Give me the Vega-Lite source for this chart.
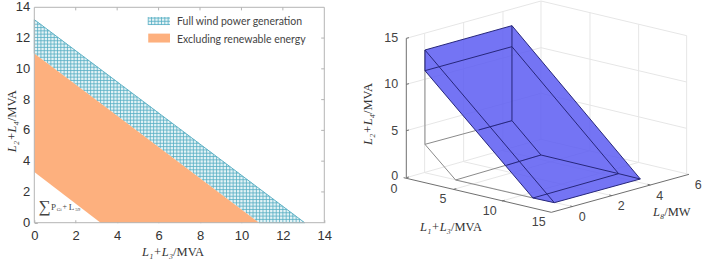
{"$schema":"https://vega.github.io/schema/vega-lite/v6.json","padding":{"left":5.3,"top":0,"right":0,"bottom":0},"spacing":18,"background":"white","config":{"view":{"stroke":null},"text":{"font":"Liberation Sans"}},
"datasets":{
"hatch":[
{"x":0,"x2":0,"y":11,"y2":13.2},{"x":0.16,"x2":0.16,"y":10.84,"y2":13.04},{"x":0.32,"x2":0.32,"y":10.68,"y2":12.88},{"x":0.48,"x2":0.48,"y":10.51,"y2":12.71},{"x":0.64,"x2":0.64,"y":10.35,"y2":12.55},{"x":0.8,"x2":0.8,"y":10.19,"y2":12.39},{"x":0.96,"x2":0.96,"y":10.03,"y2":12.23},{"x":1.12,"x2":1.12,"y":9.86,"y2":12.07},{"x":1.28,"x2":1.28,"y":9.7,"y2":11.91},{"x":1.44,"x2":1.44,"y":9.54,"y2":11.74},{"x":1.6,"x2":1.6,"y":9.38,"y2":11.58},{"x":1.76,"x2":1.76,"y":9.22,"y2":11.42},{"x":1.92,"x2":1.92,"y":9.05,"y2":11.26},{"x":2.08,"x2":2.08,"y":8.89,"y2":11.1},{"x":2.24,"x2":2.24,"y":8.73,"y2":10.93},{"x":2.4,"x2":2.4,"y":8.57,"y2":10.77},{"x":2.56,"x2":2.56,"y":8.4,"y2":10.61},{"x":2.72,"x2":2.72,"y":8.24,"y2":10.45},{"x":2.88,"x2":2.88,"y":8.08,"y2":10.29},{"x":3.04,"x2":3.04,"y":7.92,"y2":10.13},{"x":3.2,"x2":3.2,"y":7.76,"y2":9.96},{"x":3.36,"x2":3.36,"y":7.59,"y2":9.8},{"x":3.52,"x2":3.52,"y":7.43,"y2":9.64},{"x":3.68,"x2":3.68,"y":7.27,"y2":9.48},{"x":3.84,"x2":3.84,"y":7.11,"y2":9.32},{"x":4,"x2":4,"y":6.94,"y2":9.15},{"x":4.16,"x2":4.16,"y":6.78,"y2":8.99},{"x":4.32,"x2":4.32,"y":6.62,"y2":8.83},{"x":4.48,"x2":4.48,"y":6.46,"y2":8.67},{"x":4.64,"x2":4.64,"y":6.3,"y2":8.51},{"x":4.8,"x2":4.8,"y":6.13,"y2":8.34},{"x":4.96,"x2":4.96,"y":5.97,"y2":8.18},{"x":5.12,"x2":5.12,"y":5.81,"y2":8.02},{"x":5.28,"x2":5.28,"y":5.65,"y2":7.86},{"x":5.44,"x2":5.44,"y":5.48,"y2":7.7},{"x":5.6,"x2":5.6,"y":5.32,"y2":7.54},{"x":5.76,"x2":5.76,"y":5.16,"y2":7.37},{"x":5.92,"x2":5.92,"y":5,"y2":7.21},{"x":6.08,"x2":6.08,"y":4.84,"y2":7.05},{"x":6.24,"x2":6.24,"y":4.67,"y2":6.89},{"x":6.4,"x2":6.4,"y":4.51,"y2":6.73},{"x":6.56,"x2":6.56,"y":4.35,"y2":6.56},{"x":6.72,"x2":6.72,"y":4.19,"y2":6.4},{"x":6.88,"x2":6.88,"y":4.03,"y2":6.24},{"x":7.04,"x2":7.04,"y":3.86,"y2":6.08},{"x":7.2,"x2":7.2,"y":3.7,"y2":5.92},{"x":7.36,"x2":7.36,"y":3.54,"y2":5.76},{"x":7.52,"x2":7.52,"y":3.38,"y2":5.59},{"x":7.68,"x2":7.68,"y":3.21,"y2":5.43},{"x":7.84,"x2":7.84,"y":3.05,"y2":5.27},{"x":8,"x2":8,"y":2.89,"y2":5.11},{"x":8.16,"x2":8.16,"y":2.73,"y2":4.95},{"x":8.32,"x2":8.32,"y":2.57,"y2":4.78},{"x":8.48,"x2":8.48,"y":2.4,"y2":4.62},{"x":8.64,"x2":8.64,"y":2.24,"y2":4.46},{"x":8.8,"x2":8.8,"y":2.08,"y2":4.3},{"x":8.96,"x2":8.96,"y":1.92,"y2":4.14},{"x":9.12,"x2":9.12,"y":1.75,"y2":3.98},{"x":9.28,"x2":9.28,"y":1.59,"y2":3.81},{"x":9.44,"x2":9.44,"y":1.43,"y2":3.65},{"x":9.6,"x2":9.6,"y":1.27,"y2":3.49},{"x":9.76,"x2":9.76,"y":1.11,"y2":3.33},{"x":9.92,"x2":9.92,"y":0.94,"y2":3.17},{"x":10.08,"x2":10.08,"y":0.78,"y2":3},{"x":10.24,"x2":10.24,"y":0.62,"y2":2.84},{"x":10.4,"x2":10.4,"y":0.46,"y2":2.68},{"x":10.56,"x2":10.56,"y":0.29,"y2":2.52},{"x":10.72,"x2":10.72,"y":0.13,"y2":2.36},{"x":10.88,"x2":10.88,"y":0,"y2":2.2},{"x":11.04,"x2":11.04,"y":0,"y2":2.03},{"x":11.2,"x2":11.2,"y":0,"y2":1.87},{"x":11.36,"x2":11.36,"y":0,"y2":1.71},{"x":11.52,"x2":11.52,"y":0,"y2":1.55},{"x":11.68,"x2":11.68,"y":0,"y2":1.39},{"x":11.84,"x2":11.84,"y":0,"y2":1.22},{"x":12,"x2":12,"y":0,"y2":1.06},{"x":12.16,"x2":12.16,"y":0,"y2":0.9},{"x":12.32,"x2":12.32,"y":0,"y2":0.74},{"x":12.48,"x2":12.48,"y":0,"y2":0.58},{"x":12.64,"x2":12.64,"y":0,"y2":0.41},{"x":12.8,"x2":12.8,"y":0,"y2":0.25},{"x":12.96,"x2":12.96,"y":0,"y2":0.09},
{"x":10.85,"x2":13.05,"y":0,"y2":0},{"x":10.64,"x2":12.84,"y":0.215,"y2":0.215},{"x":10.43,"x2":12.62,"y":0.43,"y2":0.43},{"x":10.21,"x2":12.41,"y":0.645,"y2":0.645},{"x":10,"x2":12.2,"y":0.86,"y2":0.86},{"x":9.79,"x2":11.99,"y":1.075,"y2":1.075},{"x":9.58,"x2":11.77,"y":1.29,"y2":1.29},{"x":9.37,"x2":11.56,"y":1.505,"y2":1.505},{"x":9.15,"x2":11.35,"y":1.72,"y2":1.72},{"x":8.94,"x2":11.14,"y":1.935,"y2":1.935},{"x":8.73,"x2":10.92,"y":2.15,"y2":2.15},{"x":8.52,"x2":10.71,"y":2.365,"y2":2.365},{"x":8.3,"x2":10.5,"y":2.58,"y2":2.58},{"x":8.09,"x2":10.29,"y":2.795,"y2":2.795},{"x":7.88,"x2":10.07,"y":3.01,"y2":3.01},{"x":7.67,"x2":9.86,"y":3.225,"y2":3.225},{"x":7.46,"x2":9.65,"y":3.44,"y2":3.44},{"x":7.24,"x2":9.44,"y":3.655,"y2":3.655},{"x":7.03,"x2":9.22,"y":3.87,"y2":3.87},{"x":6.82,"x2":9.01,"y":4.085,"y2":4.085},{"x":6.61,"x2":8.8,"y":4.3,"y2":4.3},{"x":6.4,"x2":8.59,"y":4.515,"y2":4.515},{"x":6.18,"x2":8.37,"y":4.73,"y2":4.73},{"x":5.97,"x2":8.16,"y":4.945,"y2":4.945},{"x":5.76,"x2":7.95,"y":5.16,"y2":5.16},{"x":5.55,"x2":7.74,"y":5.375,"y2":5.375},{"x":5.34,"x2":7.52,"y":5.59,"y2":5.59},{"x":5.12,"x2":7.31,"y":5.805,"y2":5.805},{"x":4.91,"x2":7.1,"y":6.02,"y2":6.02},{"x":4.7,"x2":6.89,"y":6.235,"y2":6.235},{"x":4.49,"x2":6.67,"y":6.45,"y2":6.45},{"x":4.28,"x2":6.46,"y":6.665,"y2":6.665},{"x":4.06,"x2":6.25,"y":6.88,"y2":6.88},{"x":3.85,"x2":6.04,"y":7.095,"y2":7.095},{"x":3.64,"x2":5.82,"y":7.31,"y2":7.31},{"x":3.43,"x2":5.61,"y":7.525,"y2":7.525},{"x":3.21,"x2":5.4,"y":7.74,"y2":7.74},{"x":3,"x2":5.19,"y":7.955,"y2":7.955},{"x":2.79,"x2":4.97,"y":8.17,"y2":8.17},{"x":2.58,"x2":4.76,"y":8.385,"y2":8.385},{"x":2.37,"x2":4.55,"y":8.6,"y2":8.6},{"x":2.15,"x2":4.34,"y":8.815,"y2":8.815},{"x":1.94,"x2":4.12,"y":9.03,"y2":9.03},{"x":1.73,"x2":3.91,"y":9.245,"y2":9.245},{"x":1.52,"x2":3.7,"y":9.46,"y2":9.46},{"x":1.31,"x2":3.49,"y":9.675,"y2":9.675},{"x":1.09,"x2":3.27,"y":9.89,"y2":9.89},{"x":0.88,"x2":3.06,"y":10.105,"y2":10.105},{"x":0.67,"x2":2.85,"y":10.32,"y2":10.32},{"x":0.46,"x2":2.64,"y":10.535,"y2":10.535},{"x":0.25,"x2":2.42,"y":10.75,"y2":10.75},{"x":0.03,"x2":2.21,"y":10.965,"y2":10.965},{"x":0,"x2":2,"y":11.18,"y2":11.18},{"x":0,"x2":1.78,"y":11.395,"y2":11.395},{"x":0,"x2":1.57,"y":11.61,"y2":11.61},{"x":0,"x2":1.36,"y":11.825,"y2":11.825},{"x":0,"x2":1.15,"y":12.04,"y2":12.04},{"x":0,"x2":0.93,"y":12.255,"y2":12.255},{"x":0,"x2":0.72,"y":12.47,"y2":12.47},{"x":0,"x2":0.51,"y":12.685,"y2":12.685},{"x":0,"x2":0.3,"y":12.9,"y2":12.9},{"x":0,"x2":0.08,"y":13.115,"y2":13.115},
{"x":5.5,"x2":5.5,"y":12.85,"y2":13.37},{"x":5.66,"x2":5.66,"y":12.85,"y2":13.37},{"x":5.82,"x2":5.82,"y":12.85,"y2":13.37},{"x":5.98,"x2":5.98,"y":12.85,"y2":13.37},{"x":6.14,"x2":6.14,"y":12.85,"y2":13.37},{"x":6.3,"x2":6.3,"y":12.85,"y2":13.37},{"x":6.46,"x2":6.46,"y":12.85,"y2":13.37},{"x":5.5,"x2":6.55,"y":12.88,"y2":12.88},{"x":5.5,"x2":6.55,"y":13.09,"y2":13.09},{"x":5.5,"x2":6.55,"y":13.3,"y2":13.3}
],
"frameTicks":[
{"x":0,"x2":14,"y":0,"y2":0},{"x":0,"x2":14,"y":14,"y2":14},{"x":0,"x2":0,"y":0,"y2":14},{"x":14,"x2":14,"y":0,"y2":14},
{"x":13.85,"x2":14,"y":2,"y2":2},{"x":13.85,"x2":14,"y":4,"y2":4},{"x":13.85,"x2":14,"y":6,"y2":6},{"x":13.85,"x2":14,"y":8,"y2":8},{"x":13.85,"x2":14,"y":10,"y2":10},{"x":13.85,"x2":14,"y":12,"y2":12},
{"x":2,"x2":2,"y":13.8,"y2":14},{"x":4,"x2":4,"y":13.8,"y2":14},{"x":6,"x2":6,"y":13.8,"y2":14},{"x":8,"x2":8,"y":13.8,"y2":14},{"x":10,"x2":10,"y":13.8,"y2":14},{"x":12,"x2":12,"y":13.8,"y2":14}
],
"yLabels":[{"x":-0.2,"y":0,"t":"0"},{"x":-0.2,"y":2,"t":"2"},{"x":-0.2,"y":4,"t":"4"},{"x":-0.2,"y":6,"t":"6"},{"x":-0.2,"y":8,"t":"8"},{"x":-0.2,"y":10,"t":"10"},{"x":-0.2,"y":12,"t":"12"},{"x":-0.2,"y":14,"t":"14"}],
"grid3d":[
{"u":168,"v":115,"u2":572,"v2":3},{"u":572,"v":3,"u2":1009,"v2":107},{"u":168,"v":253,"u2":572,"v2":143},{"u":572,"v":143,"u2":1009,"v2":246},{"u":168,"v":392,"u2":572,"v2":280},{"u":572,"v":280,"u2":1009,"v2":385},{"u":168,"v":533,"u2":572,"v2":418},{"u":572,"v":418,"u2":1016,"v2":523},{"u":572,"v":3,"u2":572,"v2":418},{"u":719,"v":38,"u2":719,"v2":452},{"u":865,"v":73,"u2":865,"v2":487},{"u":1009,"v":107,"u2":1009,"v2":521},{"u":223,"v":100,"u2":223,"v2":518},{"u":340,"v":68,"u2":340,"v2":485},{"u":458,"v":35,"u2":458,"v2":452},{"u":310,"v":568,"u2":719,"v2":452},{"u":455,"v":603,"u2":865,"v2":487},{"u":668,"v":620,"u2":223,"v2":518},{"u":785,"v":587,"u2":340,"v2":485},{"u":900,"v":555,"u2":458,"v2":452}
],
"edges3dGray":[
{"u":224,"v":150,"u2":224,"v2":433},{"u":224,"v":433,"u2":316,"v2":540},{"u":224,"v":433,"u2":485,"v2":362},{"u":316,"v":540,"u2":572,"v2":465},{"u":316,"v":540,"u2":548,"v2":594}
],
"edges3dNavy":[
{"u":224,"v":150,"u2":485,"v2":77},{"u":485,"v":77,"u2":870,"v2":537},{"u":224,"v":150,"u2":612,"v2":608},{"u":612,"v":608,"u2":870,"v2":537},{"u":224,"v":212,"u2":485,"v2":140},{"u":485,"v":140,"u2":805,"v2":521},{"u":224,"v":212,"u2":548,"v2":594},{"u":548,"v":594,"u2":805,"v2":521},{"u":548,"v":594,"u2":612,"v2":608},{"u":805,"v":521,"u2":870,"v2":537},{"u":485,"v":77,"u2":485,"v2":362},{"u":485,"v":362,"u2":572,"v2":465},{"u":572,"v":465,"u2":805,"v2":521},{"u":385,"v":390,"u2":485,"v2":362},{"u":468,"v":496,"u2":572,"v2":465},{"u":224,"v":150,"u2":224,"v2":212}
],
"axes3d":[
{"u":168,"v":115,"u2":168,"v2":533},{"u":160,"v":533,"u2":603,"v2":637},{"u":603,"v":637,"u2":1016,"v2":523},{"u":168,"v":115,"u2":176,"v2":113},{"u":168,"v":253,"u2":176,"v2":251},{"u":168,"v":392,"u2":176,"v2":390},{"u":168,"v":533,"u2":176,"v2":531},{"u":310,"v":568,"u2":318,"v2":566},{"u":455,"v":603,"u2":463,"v2":601},{"u":668,"v":620,"u2":660,"v2":618},{"u":785,"v":587,"u2":777,"v2":585},{"u":900,"v":555,"u2":892,"v2":553}
],
"labels3d":[
{"u":123,"v":115,"t":"15"},{"u":123,"v":253,"t":"10"},{"u":133,"v":392,"t":"5"},{"u":133,"v":529,"t":"0"},{"u":131,"v":567,"t":"0"},{"u":278,"v":598,"t":"5"},{"u":418,"v":632,"t":"10"},{"u":565,"v":666,"t":"15"},{"u":696,"v":650,"t":"0"},{"u":813,"v":618,"t":"2"},{"u":928,"v":587,"t":"4"},{"u":1044,"v":554,"t":"6"}
],
"blue":[
{"u":224,"v":150,"v2":212},{"u":485,"v":77,"v2":519.7},{"u":548,"v":152.3,"v2":594},{"u":612,"v":228.7,"v2":608},{"u":870,"v":537,"v2":537}
]
},
"hconcat":[
{"width":290,"height":222.7,
"layer":[
{"data":{"values":[{"x":0,"y":11,"y2":13.2},{"x":10.85,"y":0,"y2":2.22},{"x":13.05,"y":0,"y2":0}]},"mark":{"type":"area","color":"#e4f3f6"},
"encoding":{"x":{"field":"x","type":"quantitative","scale":{"domain":[0,14],"nice":false},"axis":{"title":null,"values":[0,2,4,6,8,10,12,14],"domain":false,"grid":false,"tickSize":-3,"tickColor":"#b4b4b4","labelFont":"Liberation Sans","labelFontSize":13,"labelColor":"#333333","labelPadding":10,"labelFlush":false,"labelOverlap":false}},"y":{"field":"y","type":"quantitative","scale":{"domain":[0,14],"nice":false,"range":[222.7,7.3]},"axis":{"title":null,"values":[0,2,4,6,8,10,12,14],"domain":false,"grid":false,"tickSize":-3,"tickColor":"#b4b4b4","labels":false}},"y2":{"field":"y2"}}},
{"data":{"name":"yLabels"},"mark":{"type":"text","font":"Liberation Sans","fontSize":13,"align":"right","baseline":"middle","color":"#333333"},"encoding":{"x":{"field":"x","type":"quantitative"},"y":{"field":"y","type":"quantitative"},"text":{"field":"t"}}},
{"data":{"values":[{"x":5.5,"x2":6.55,"y":12.85,"y2":13.37}]},"mark":{"type":"rect","color":"#e4f3f6"},"encoding":{"x":{"field":"x","type":"quantitative"},"x2":{"field":"x2"},"y":{"field":"y","type":"quantitative"},"y2":{"field":"y2"}}},
{"data":{"name":"hatch"},"mark":{"type":"rule","color":"#55adc3","strokeWidth":0.8},"encoding":{"x":{"field":"x","type":"quantitative"},"x2":{"field":"x2"},"y":{"field":"y","type":"quantitative"},"y2":{"field":"y2"}}},
{"data":{"values":[{"x":0,"y":13.2,"x2":13.05,"y2":0}]},"mark":{"type":"rule","color":"#5fb2c6","strokeWidth":1},"encoding":{"x":{"field":"x","type":"quantitative"},"x2":{"field":"x2"},"y":{"field":"y","type":"quantitative"},"y2":{"field":"y2"}}},
{"data":{"values":[{"x":0,"y":3.3,"y2":11},{"x":3.2,"y":0,"y2":7.76},{"x":10.85,"y":0,"y2":0}]},"mark":{"type":"area","color":"#fdb07e"},"encoding":{"x":{"field":"x","type":"quantitative"},"y":{"field":"y","type":"quantitative"},"y2":{"field":"y2"}}},
{"data":{"values":[{"x":5.5,"x2":6.55,"y":11.71,"y2":12.29}]},"mark":{"type":"rect","color":"#fdb07e"},"encoding":{"x":{"field":"x","type":"quantitative"},"x2":{"field":"x2"},"y":{"field":"y","type":"quantitative"},"y2":{"field":"y2"}}},
{"data":{"name":"frameTicks"},"mark":{"type":"rule","color":"#b4b4b4","strokeWidth":1},"encoding":{"x":{"field":"x","type":"quantitative"},"x2":{"field":"x2"},"y":{"field":"y","type":"quantitative"},"y2":{"field":"y2"}}},
{"data":{"values":[{"x":6.89,"y":13.05,"t":"Full wind power generation"},{"x":6.89,"y":11.85,"t":"Excluding renewable energy"}]},"mark":{"type":"text","font":"Lato","fontSize":10.5,"align":"left","baseline":"middle","color":"#444444"},"encoding":{"x":{"field":"x","type":"quantitative"},"y":{"field":"y","type":"quantitative"},"text":{"field":"t"}}},
{"data":{"values":[{"x":0.5,"y":1.02,"t":"∑","s":17},{"x":0.93,"y":1.05,"t":"P","s":9},{"x":1.2,"y":0.88,"t":"Gi","s":5},{"x":1.47,"y":1.05,"t":"+","s":8},{"x":1.8,"y":1.05,"t":"L","s":9},{"x":2.1,"y":0.88,"t":"59","s":5}]},"mark":{"type":"text","font":"Liberation Serif","align":"center","baseline":"middle","color":"#444444"},"encoding":{"x":{"field":"x","type":"quantitative"},"y":{"field":"y","type":"quantitative"},"text":{"field":"t"},"size":{"field":"s","type":"quantitative","scale":null}}},
{"data":{"values":[{"x":6.7,"y":-1.9,"t":"L₁+L₃"}]},"mark":{"type":"text","font":"Liberation Serif","fontStyle":"italic","fontSize":12.5,"align":"right","baseline":"middle","color":"#333333"},"encoding":{"x":{"field":"x","type":"quantitative"},"y":{"field":"y","type":"quantitative"},"text":{"field":"t"}}},
{"data":{"values":[{"x":6.7,"y":-1.9,"t":"/MVA"}]},"mark":{"type":"text","font":"Liberation Serif","fontSize":12.5,"align":"left","baseline":"middle","color":"#333333"},"encoding":{"x":{"field":"x","type":"quantitative"},"y":{"field":"y","type":"quantitative"},"text":{"field":"t"}}},
{"data":{"values":[{"x":-1.08,"y":6.6,"t":"L₂+L₄"}]},"mark":{"type":"text","font":"Liberation Serif","fontStyle":"italic","fontSize":12.5,"angle":270,"align":"right","baseline":"middle","color":"#333333"},"encoding":{"x":{"field":"x","type":"quantitative"},"y":{"field":"y","type":"quantitative"},"text":{"field":"t"}}},
{"data":{"values":[{"x":-1.08,"y":6.6,"t":"/MVA"}]},"mark":{"type":"text","font":"Liberation Serif","fontSize":12.5,"angle":270,"align":"left","baseline":"middle","color":"#333333"},"encoding":{"x":{"field":"x","type":"quantitative"},"y":{"field":"y","type":"quantitative"},"text":{"field":"t"}}}
]},
{"width":356,"height":263,
"encoding":{"x":{"field":"u","type":"quantitative","scale":{"domain":[0,1068],"nice":false,"zero":false},"axis":null},"y":{"field":"v","type":"quantitative","scale":{"domain":[789,0],"nice":false,"zero":false},"axis":null}},
"layer":[
{"data":{"name":"grid3d"},"mark":{"type":"rule","color":"#e6e6e6","strokeWidth":1},"encoding":{"x2":{"field":"u2"},"y2":{"field":"v2"}}},
{"data":{"name":"edges3dGray"},"mark":{"type":"rule","color":"#8a8a8a","strokeWidth":1},"encoding":{"x2":{"field":"u2"},"y2":{"field":"v2"}}},
{"data":{"name":"axes3d"},"mark":{"type":"rule","color":"#6e6e6e","strokeWidth":1},"encoding":{"x2":{"field":"u2"},"y2":{"field":"v2"}}},
{"data":{"name":"blue"},"mark":{"type":"area","color":"#5c5cf2","opacity":0.85},"encoding":{"y2":{"field":"v2"}}},
{"data":{"name":"edges3dNavy"},"mark":{"type":"rule","color":"#26267a","strokeWidth":1},"encoding":{"x2":{"field":"u2"},"y2":{"field":"v2"}}},
{"data":{"name":"labels3d"},"mark":{"type":"text","font":"Liberation Sans","fontSize":12.5,"align":"center","baseline":"middle","color":"#444444"},"encoding":{"text":{"field":"t"}}},
{"data":{"values":[{"u":302,"v":680,"t":"L₁+L₃"},{"u":942,"v":635,"t":"L₈"}]},"mark":{"type":"text","font":"Liberation Serif","fontStyle":"italic","fontSize":12.5,"align":"right","baseline":"middle","color":"#333333"},"encoding":{"text":{"field":"t"}}},
{"data":{"values":[{"u":302,"v":680,"t":"/MVA"},{"u":942,"v":635,"t":"/MW"}]},"mark":{"type":"text","font":"Liberation Serif","fontSize":12.5,"align":"left","baseline":"middle","color":"#333333"},"encoding":{"text":{"field":"t"}}},
{"data":{"values":[{"u":52,"v":342,"t":"L₂+L₄"}]},"mark":{"type":"text","font":"Liberation Serif","fontStyle":"italic","fontSize":12.5,"angle":270,"align":"right","baseline":"middle","color":"#333333"},"encoding":{"text":{"field":"t"}}},
{"data":{"values":[{"u":52,"v":342,"t":"/MVA"}]},"mark":{"type":"text","font":"Liberation Serif","fontSize":12.5,"angle":270,"align":"left","baseline":"middle","color":"#333333"},"encoding":{"text":{"field":"t"}}}
]}
]}
